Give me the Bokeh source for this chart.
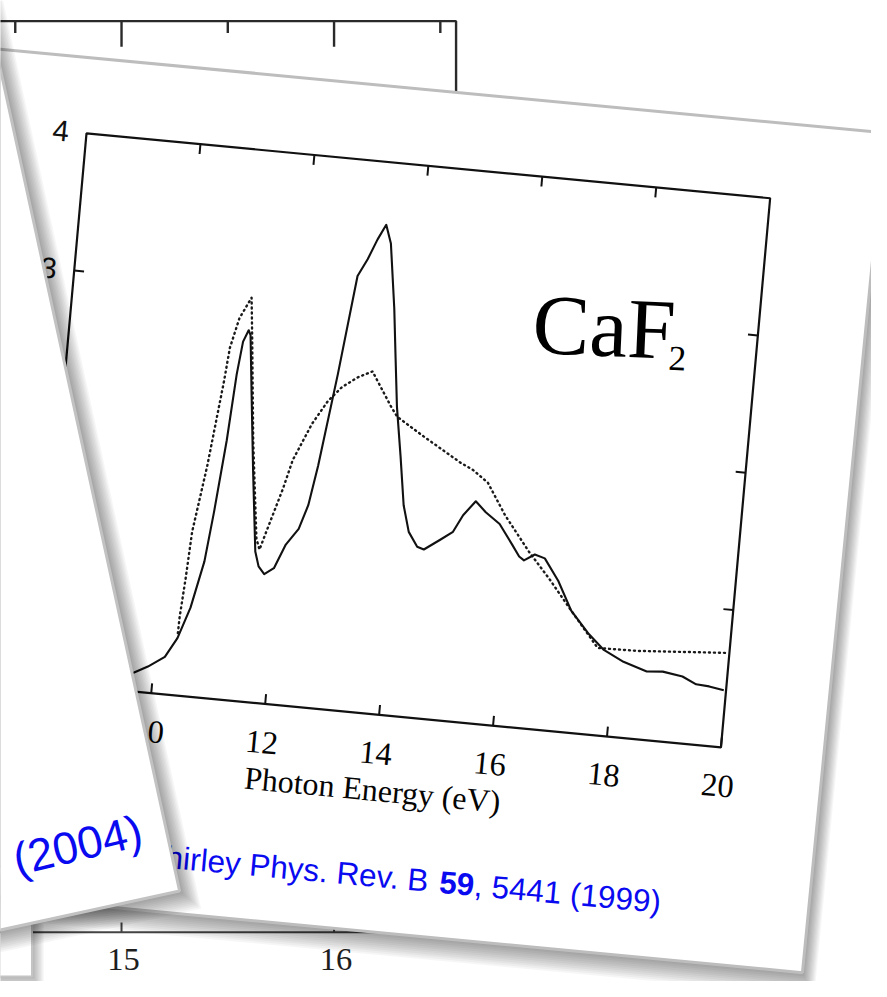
import math
from bokeh.plotting import figure
from bokeh.models import Range1d
from bokeh.core.properties import value
from bokeh.embed import file_html
from bokeh.resources import INLINE

# ---------------- data ----------------
# CaF2: solid curve
solid_energy = [9.30, 9.67, 9.90, 10.18, 10.37, 10.55, 10.72, 10.81, 10.92, 10.99,
                11.05, 11.13, 11.17, 11.28, 11.43, 11.53, 11.59, 11.67, 11.78, 11.94,
                12.11, 12.31, 12.44, 12.55, 12.75, 12.94, 13.09, 13.23, 13.36, 13.47,
                13.63, 13.73, 13.83, 13.97, 14.10, 14.23, 14.40, 14.52, 14.79, 15.00,
                15.15, 15.35, 15.54, 15.80, 16.05, 16.19, 16.28, 16.46, 16.64, 16.91,
                17.18, 17.51, 17.81, 18.17, 18.59, 18.87, 19.22, 19.47, 19.70, 19.96]
solid_value = [0.08, 0.138, 0.19, 0.272, 0.416, 0.645, 0.989, 1.351, 1.879, 2.362,
               2.603, 2.689, 2.655, 2.23, 1.662, 1.307, 1.095, 0.99, 0.938, 0.987,
               1.166, 1.288, 1.466, 1.757, 2.431, 3.155, 3.283, 3.432, 3.545, 3.413,
               2.946, 2.589, 2.237, 1.882, 1.531, 1.342, 1.241, 1.225, 1.307, 1.373,
               1.5, 1.609, 1.537, 1.461, 1.321, 1.24, 1.215, 1.265, 1.244, 1.09,
               0.885, 0.733, 0.623, 0.551, 0.497, 0.507, 0.485, 0.438, 0.432, 0.414]
# CaF2: dotted curve
dotted_energy = [10.37, 10.375, 10.42, 10.46, 10.62, 10.78, 10.83, 10.95, 11.13, 11.21,
                 11.38, 11.59, 11.66, 11.75, 11.97, 12.10, 12.38, 12.62, 12.84, 13.10,
                 13.35, 13.73, 13.85, 14.34, 15.03, 15.25, 15.53, 15.88, 16.35, 16.74,
                 17.18, 17.70, 18.39, 19.95]
dotted_value = [0.452, 0.567, 0.855, 1.194, 1.68, 2.303, 2.549, 2.769, 2.926, 2.607,
                1.897, 1.188, 1.112, 1.245, 1.562, 1.782, 2.058, 2.232, 2.341, 2.423,
                2.476, 2.233, 2.166, 2.042, 1.876, 1.834, 1.752, 1.529, 1.283, 1.104,
                0.885, 0.633, 0.639, 0.686]
x_min, x_max = 8, 20
y_min, y_max = 0, 4
x_ticks = [10, 12, 14, 16, 18, 20]
x_tick_labels = ["10", "12", "14", "16", "18", "20"]
y_ticks = [1, 2, 3]
y_label_values = [3, 4]
y_tick_labels = ["3", "4"]
x_axis_title = "Photon Energy (eV)"
material = "CaF"
material_sub = "2"
caption_parts = ["Shirley Phys. Rev. B ", "59", ", 5441 (1999)"]
front_caption = "(2004)"
# background slide
back_top_ticks = [14.5, 15, 15.5, 16, 16.5]
back_bottom_ticks = [15, 16]
back_bottom_labels = ["15", "16"]

# ---------------- geometry helpers (reference pixels, y down) ----------------
H = 997
S = 981.0 / 997.0          # whole scene scaled to fit the figure


def fs(px):
    return f"{px * S:.1f}px"


def sy(Y):
    return [H - v for v in Y]


# rotated CaF2 panel: data -> scene
OX, OY = 269.0, 715.0
AX, AY = 57.9, 5.5      # per eV
BX, BY = 12.5, -139.5   # per unit of value


def mid(xs, ys):
    X = [OX + (x - 12) * AX + y * BX for x, y in zip(xs, ys)]
    Y = [OY + (x - 12) * AY + y * BY for x, y in zip(xs, ys)]
    return X, sy(Y)


ANG = -math.atan2(AY, AX)


def back_x(v):
    return 123 + (v - 15) * 216.0


def shift(poly, dx, dy):
    return [x + dx for x, _ in poly], [H - (y + dy) for _, y in poly]


p = figure(width=871, height=981, x_range=Range1d(0, 871 / S), y_range=Range1d(0, H),
           x_axis_type=None, y_axis_type=None, toolbar_location=None,
           output_backend="svg", min_border=0)
p.grid.visible = False
p.outline_line_color = None
p.background_fill_color = "white"
p.border_fill_color = "white"

SERIF = value("Liberation Serif")
SANS = value("Liberation Sans")

# ---------------- back slide ----------------
p.line([-40, 463, 463], sy([21, 21, 400]), line_color="#2a2a2a", line_width=2.4)
for v in back_top_ticks:
    L = 26 if float(v).is_integer() else 12
    p.segment(x0=[back_x(v)], y0=sy([21]), x1=[back_x(v)], y1=sy([21 + L]),
              line_color="#2a2a2a", line_width=2.4)
p.line([-40, 700], sy([947, 947]), line_color="#444444", line_width=2)
p.segment(x0=[back_x(v) for v in back_bottom_ticks], y0=sy([947, 947]),
          x1=[back_x(v) for v in back_bottom_ticks], y1=sy([937, 937]),
          line_color="#444444", line_width=2)
p.text(x=[back_x(v) + 2 for v in back_bottom_ticks], y=sy([975, 975]), text=back_bottom_labels,
       text_font=SERIF, text_font_size=fs(33), text_align="center",
       text_baseline="middle", text_color="#1e1e1e")

# ---------------- middle card ----------------
c, s = math.cos(math.radians(5.4)), math.sin(math.radians(5.4))
TR = (899.0, 134.5)
BR = (815.0, 988.0)
W = 1150
TL = (TR[0] - W * c, TR[1] - W * s)
BL = (BR[0] - W * c, BR[1] - W * s)
mid_card = [TL, TR, BR, BL]
n = 12
sx_list, sy_list = [], []
for k in range(1, n + 1):
    xs, ys = shift(mid_card, 12 * k / n, 24 * k / n)
    sx_list.append(xs)
    sy_list.append(ys)
p.patches(sx_list, sy_list, fill_color="black", fill_alpha=0.035, line_color=None)
xs, ys = shift(mid_card, 0, 0)
p.patch(xs, ys, fill_color="white", line_color="#bdbdbd", line_width=3)

# panel frame
fx, fy = mid([x_min, x_max, x_max, x_min, x_min], [y_min, y_min, y_max, y_max, y_min])
p.line(fx, fy, line_color="#111111", line_width=2.2)
tl = 10 / 139.5
tlx = 10 / 57.9
bx0, by0 = mid(x_ticks, [y_min] * len(x_ticks))
bx1, by1 = mid(x_ticks, [y_min + tl] * len(x_ticks))
p.segment(bx0, by0, bx1, by1, line_color="#111111", line_width=2)
top_t = [t for t in x_ticks if t < x_max]
tx0, ty0 = mid(top_t, [y_max] * len(top_t))
tx1, ty1 = mid(top_t, [y_max - tl] * len(top_t))
p.segment(tx0, ty0, tx1, ty1, line_color="#111111", line_width=2)
lx0, ly0 = mid([x_min] * 3, y_ticks)
lx1, ly1 = mid([x_min + tlx] * 3, y_ticks)
p.segment(lx0, ly0, lx1, ly1, line_color="#111111", line_width=2)
rx0, ry0 = mid([x_max] * 3, y_ticks)
rx1, ry1 = mid([x_max - tlx] * 3, y_ticks)
p.segment(rx0, ry0, rx1, ry1, line_color="#111111", line_width=2)

# curves
dx_, dy_ = mid(dotted_energy, dotted_value)
p.line(dx_, dy_, line_color="#1a1a1a", line_width=2.4, line_dash="1 4", line_cap="round",
       line_join="round")
sx_, sy_ = mid(solid_energy, solid_value)
p.line(sx_, sy_, line_color="#111111", line_width=2.1, line_join="round")

# tick labels and axis title
lx, ly = mid(x_ticks, [-0.28] * len(x_ticks))
p.text(lx, ly, text=x_tick_labels, angle=ANG, text_font=SERIF, text_font_size=fs(33),
       text_align="center", text_baseline="middle", text_color="#050505")
ylx, yly = mid([7.55] * len(y_label_values), y_label_values)
p.text(ylx, yly, text=y_tick_labels, angle=ANG, text_font=SANS, text_font_size=fs(30),
       text_align="center", text_baseline="middle", text_color="#111111")
ax_, ay_ = mid([14.0], [-0.545])
p.text(ax_, ay_, text=[x_axis_title], angle=ANG, text_font=SERIF, text_font_size=fs(32.5),
       text_align="center", text_baseline="middle", text_color="#050505")

# CaF2 label
cang = -math.radians(2.5)
p.text([541], sy([329]), text=[material], angle=cang, text_font=SERIF,
       text_font_size=fs(87), text_align="left", text_baseline="alphabetic",
       text_color="black")
p.text([679], sy([363]), text=[material_sub], angle=cang, text_font=SERIF,
       text_font_size=fs(36), text_align="left", text_baseline="alphabetic",
       text_color="black")

# caption with bold volume
WID = {' ': 278, '.': 278, ',': 278, '(': 333, ')': 333, 'P': 667, 'h': 556, 'y': 500,
       's': 500, 'R': 722, 'e': 556, 'v': 500, 'B': 667, 'S': 667, 'i': 222, 'r': 333,
       'l': 222}


def tw(t, size):
    return sum(WID.get(ch, 556) for ch in t) * size / 1000.0


FS = 32
ca = math.radians(5.2)
dirx, diry = math.cos(ca), math.sin(ca)
lead = tw("Shirley ", FS)
start = (253 - lead * dirx, 878 - lead * diry)
offs = [0.0, tw(caption_parts[0], FS), tw(caption_parts[0], FS) + tw(caption_parts[1], FS)]
styles = ["normal", "bold", "normal"]
for part, off, st in zip(caption_parts, offs, styles):
    p.text([start[0] + off * dirx], sy([start[1] + off * diry]), text=[part], angle=-ca,
           text_font=SANS, text_font_size=fs(FS), text_font_style=st,
           text_align="left", text_baseline="alphabetic", text_color="#0a0af0")

# ---------------- small card bottom-left ----------------
small = [(-80, 880), (32, 880), (32, 992), (-80, 992)]
sxl, syl = [], []
for k in range(1, 9):
    xs, ys = shift(small, 12 * k / 8, 12 * k / 8)
    sxl.append(xs)
    syl.append(ys)
p.patches(sxl, syl, fill_color="black", fill_alpha=0.04, line_color=None)
xs, ys = shift(small, 0, 0)
p.patch(xs, ys, fill_color="white", line_color="#c4c4c4", line_width=2)

# ---------------- front card ----------------
ur = (0.213, 0.977)
lf = (-0.977, 0.213)
FBR = (182.0, 905.0)
FTR = (FBR[0] - 1300 * ur[0], FBR[1] - 1300 * ur[1])
FBL = (FBR[0] + 700 * lf[0], FBR[1] + 700 * lf[1])
FTL = (FTR[0] + 700 * lf[0], FTR[1] + 700 * lf[1])
front = [FTL, FTR, FBR, FBL]
sxf, syf = [], []
for k in range(1, n + 1):
    xs, ys = shift(front, 22 * k / n, 18 * k / n)
    sxf.append(xs)
    syf.append(ys)
p.patches(sxf, syf, fill_color="black", fill_alpha=0.035, line_color=None)
xs, ys = shift(front, 0, 0)
p.patch(xs, ys, fill_color="white", line_color="#c2c2c2", line_width=3)
p.text([143], sy([843]), text=[front_caption], angle=math.radians(13.5), text_font=SANS,
       text_font_size=fs(46), text_align="right", text_baseline="alphabetic",
       text_color="#0a0af0")

open("out.html", "w").write(file_html(p, INLINE, title="CaF2"))
